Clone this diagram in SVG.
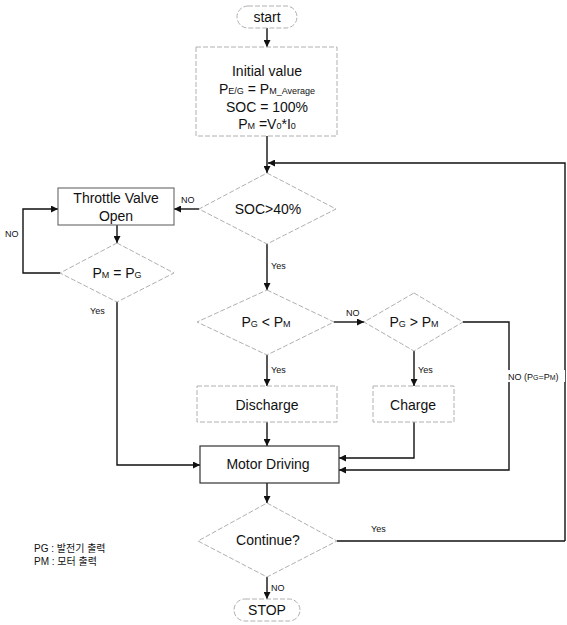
<svg xmlns="http://www.w3.org/2000/svg" width="567" height="625" viewBox="0 0 567 625">
<defs>
<marker id="arr" viewBox="0 0 10 10" refX="10" refY="5" markerWidth="7" markerHeight="7" orient="auto" markerUnits="userSpaceOnUse">
<path d="M0,0 L10,5 L0,10 z" fill="#111"/>
</marker>
</defs>
<style>
.faint{fill:#fff;stroke:#b0b0b0;stroke-width:1;stroke-dasharray:5 2}
.solid{fill:#fff;stroke:#333;stroke-width:1.2}
.t{font-family:"Liberation Sans",Arial,sans-serif;font-size:14px;fill:#111;text-anchor:middle}
.lbl{font-family:"Liberation Sans",Arial,sans-serif;font-size:9px;fill:#111}
.leg{font-family:"Liberation Sans","Noto Sans CJK KR",sans-serif;font-size:10px;fill:#111}
.s{font-size:9px}
.c{fill:none;stroke:#111;stroke-width:1.4}
</style>
<rect width="567" height="625" fill="#fff"/>

<g id="connectors">
<path class="c" d="M267,28 V47" marker-end="url(#arr)"/>
<path class="c" d="M267,136 V173" marker-end="url(#arr)"/>
<path class="c" d="M565,541 V163 H268" marker-end="url(#arr)"/>
<path class="c" d="M199,209 H174" marker-end="url(#arr)"/>
<path class="c" d="M117,225 V243" marker-end="url(#arr)"/>
<path class="c" d="M60,273 H23 V209 H58" marker-end="url(#arr)"/>
<path class="c" d="M117,302 V465 H200" marker-end="url(#arr)"/>
<path class="c" d="M267,244 V290" marker-end="url(#arr)"/>
<path class="c" d="M334,322 H364" marker-end="url(#arr)"/>
<path class="c" d="M463,322 H509 V470 H339" marker-end="url(#arr)"/>
<path class="c" d="M267,355 V386" marker-end="url(#arr)"/>
<path class="c" d="M414,351 V386" marker-end="url(#arr)"/>
<path class="c" d="M267,422 V446" marker-end="url(#arr)"/>
<path class="c" d="M414,422 V458 H339" marker-end="url(#arr)"/>
<path class="c" d="M267,483 V503" marker-end="url(#arr)"/>
<path class="c" d="M337,541 H565"/>
<path class="c" d="M267,577 V599" marker-end="url(#arr)"/>
<text class="lbl" x="181" y="203">NO</text>
<text class="lbl" x="5" y="237">NO</text>
<text class="lbl" x="90" y="314">Yes</text>
<text class="lbl" x="271" y="269">Yes</text>
<text class="lbl" x="346" y="316">NO</text>
<text class="lbl" x="271" y="373">Yes</text>
<text class="lbl" x="418" y="373">Yes</text>
<rect x="507" y="370" width="58" height="12" fill="#fff"/>
<text class="lbl" x="508" y="380">NO (P<tspan font-size="7">G</tspan>=P<tspan font-size="7">M</tspan>)</text>
<text class="lbl" x="371" y="532">Yes</text>
<text class="lbl" x="271" y="591">NO</text>
</g>

<g id="start">
<rect class="faint" x="237" y="6" width="60" height="22" rx="11"/>
<text class="t" x="267" y="22">start</text>
</g>

<g id="initial">
<rect class="faint" x="196" y="47" width="141" height="89"/>
<text class="t" x="267" y="76">Initial value</text>
<text class="t" x="267" y="94">P<tspan class="s">E/G</tspan> = P<tspan class="s">M_Average</tspan></text>
<text class="t" x="267" y="112">SOC = 100%</text>
<text class="t" x="267" y="129">P<tspan class="s">M</tspan> =V<tspan class="s">0</tspan>*I<tspan class="s">0</tspan></text>
</g>

<g id="soc">
<polygon class="faint" points="267,173 336,209 267,244 199,209"/>
<text class="t" x="268" y="214">SOC&gt;40%</text>
</g>

<g id="throttle">
<rect x="58" y="188" width="116" height="37" fill="#fff" stroke="#666" stroke-width="1.1"/>
<text class="t" x="116" y="203">Throttle Valve</text>
<text class="t" x="116" y="221">Open</text>
</g>

<g id="pmpg">
<polygon class="faint" points="117,243 174,273 117,302 60,273"/>
<text class="t" x="117" y="278">P<tspan class="s">M</tspan> = P<tspan class="s">G</tspan></text>
</g>

<g id="pgltpm">
<polygon class="faint" points="267,290 334,322 267,355 197,322"/>
<text class="t" x="266" y="327">P<tspan class="s">G</tspan> &lt; P<tspan class="s">M</tspan></text>
</g>

<g id="pggtpm">
<polygon class="faint" points="414,293 463,322 414,351 364,322"/>
<text class="t" x="414" y="327">P<tspan class="s">G</tspan> &gt; P<tspan class="s">M</tspan></text>
</g>

<g id="discharge">
<rect class="faint" x="197" y="386" width="140" height="36"/>
<text class="t" x="267" y="410">Discharge</text>
</g>

<g id="charge">
<rect class="faint" x="373" y="386" width="81" height="36"/>
<text class="t" x="413" y="410">Charge</text>
</g>

<g id="motor">
<rect class="solid" x="200" y="446" width="139" height="37"/>
<text class="t" x="268" y="469">Motor Driving</text>
</g>

<g id="continue">
<polygon class="faint" points="267,503 337,541 267,577 198,541"/>
<text class="t" x="268" y="545">Continue?</text>
</g>

<g id="stop">
<rect class="faint" x="234" y="599" width="66" height="22" rx="11"/>
<text class="t" x="267" y="615">STOP</text>
</g>

<g id="legend">
<text class="leg" x="34" y="552">PG : 발전기 출력</text>
<text class="leg" x="34" y="565">PM : 모터 출력</text>
</g>
</svg>
